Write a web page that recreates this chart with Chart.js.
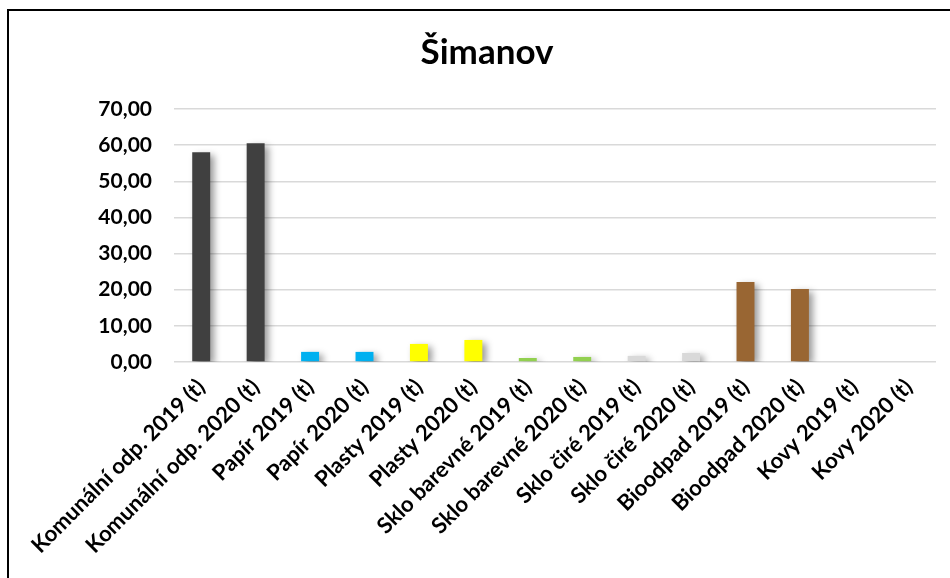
<!DOCTYPE html>
<html>
<head>
<meta charset="utf-8">
<script src="https://cdn.jsdelivr.net/npm/chart.js@4"></script>
<style>
  html, body { margin: 0; padding: 0; background: #fff; overflow: hidden; }
  #wrap { position: relative; width: 950px; height: 578px; }
  #frame { position: absolute; left: 7px; top: 9px; width: 960px; height: 600px;
           border-left: 2px solid #000; border-top: 2px solid #000; }
  canvas { position: absolute; left: 0; top: 0; }
</style>
</head>
<body>
<div id="wrap">
  <div id="frame"></div>
  <canvas id="chart" width="950" height="578"></canvas>
</div>
<script>
const categories = [
  'Komunální odp. 2019 (t)', 'Komunální odp. 2020 (t)',
  'Papír 2019 (t)', 'Papír 2020 (t)',
  'Plasty 2019 (t)', 'Plasty 2020 (t)',
  'Sklo barevné 2019 (t)', 'Sklo barevné 2020 (t)',
  'Sklo čiré 2019 (t)', 'Sklo čiré 2020 (t)',
  'Bioodpad 2019 (t)', 'Bioodpad 2020 (t)',
  'Kovy 2019 (t)', 'Kovy 2020 (t)'
];
const values = [58.0, 60.5, 2.8, 2.8, 5.0, 6.1, 1.1, 1.4, 1.7, 2.5, 22.1, 20.2, 0, 0];
const barColors = [
  '#404040', '#404040', '#00b0f0', '#00b0f0', '#ffff00', '#ffff00',
  '#92d050', '#92d050', '#d9d9d9', '#d9d9d9', '#996633', '#996633',
  '#7f7f7f', '#7f7f7f'
];

const shadow = {
  id: 'shadow',
  beforeDatasetsDraw(chart) {
    const ctx = chart.ctx;
    ctx.save();
    ctx.shadowColor = 'rgba(0,0,0,0.4)';
    ctx.shadowBlur = 7;
    ctx.shadowOffsetX = 4;
    ctx.shadowOffsetY = 3;
  },
  afterDatasetsDraw(chart) {
    chart.ctx.restore();
  }
};

new Chart(document.getElementById('chart'), {
  type: 'bar',
  plugins: [shadow],
  data: {
    labels: categories,
    datasets: [{
      data: values,
      backgroundColor: barColors,
      barPercentage: 0.66,
      categoryPercentage: 0.5
    }]
  },
  options: {
    responsive: false,
    animation: false,
    layout: { padding: { right: 14, left: 38, top: 0, bottom: 0 } },
    plugins: {
      legend: { display: false },
      tooltip: { enabled: false },
      title: {
        display: true,
        text: 'Šimanov',
        color: '#000',
        font: { family: 'Lato', size: 35, weight: 'bold' },
        padding: { top: 32, bottom: 35 }
      }
    },
    scales: {
      x: {
        grid: { display: false },
        border: { display: false },
        ticks: {
          color: '#000',
          font: { family: 'Lato', size: 22, weight: 'bold' },
          minRotation: 45,
          maxRotation: 45,
          autoSkip: false,
          padding: 4
        },
        afterFit(scale) { scale.height = 216; }
      },
      y: {
        min: 0,
        max: 70,
        grid: { color: '#d9d9d9', lineWidth: 1.5, drawTicks: false },
        border: { display: false },
        ticks: {
          stepSize: 10,
          color: '#000',
          padding: 22,
          font: { family: 'Lato', size: 21, weight: 'bold' },
          callback: v => v.toFixed(2).replace('.', ',')
        },
        afterFit(scale) { scale.width = 136; }
      }
    }
  }
});
</script>
</body>
</html>
